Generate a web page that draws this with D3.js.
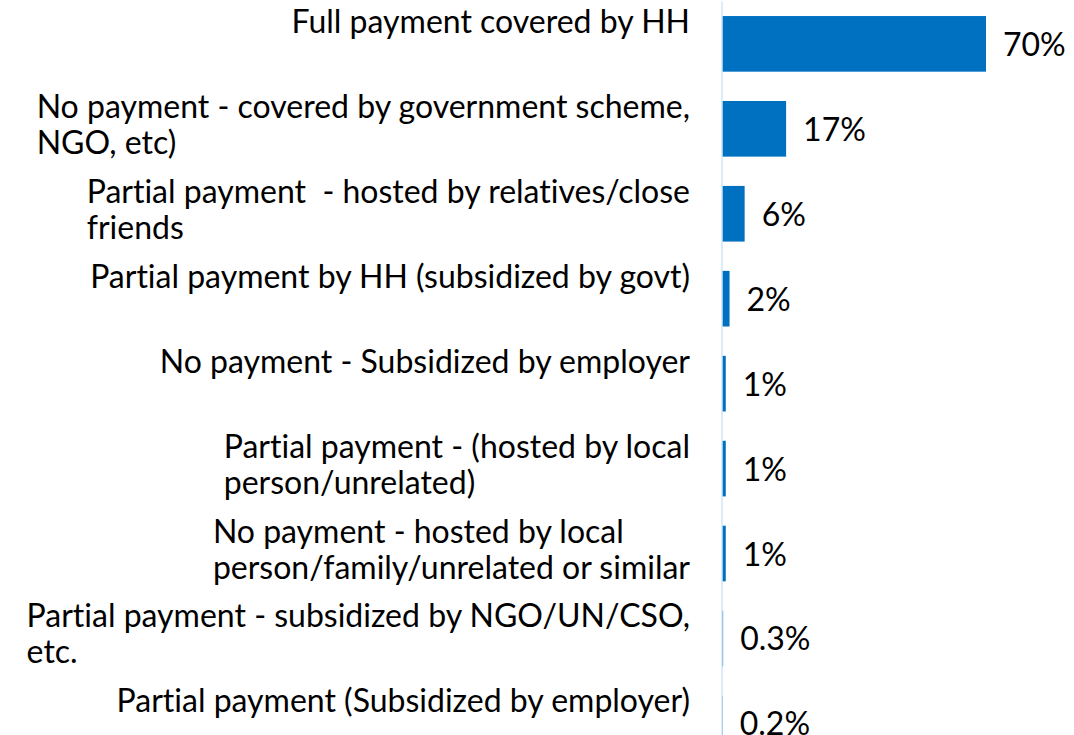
<!DOCTYPE html>
<html>
<head>
<meta charset="utf-8">
<script src="https://cdn.jsdelivr.net/npm/d3@7"></script>
<style>
  html, body { margin: 0; padding: 0; background: #ffffff; }
  svg { display: block; }
  text { font-family: Lato, "Open Sans", sans-serif; fill: #000000; font-variant-ligatures: none; font-feature-settings: "liga" 0, "clig" 0; }
</style>
</head>
<body>
<svg id="chart" width="1074" height="735"></svg>
<script>
// Payment arrangement categories (each entry is the list of label lines)
const categories = [
  ["Full payment covered by HH"],
  ["No payment - covered by government scheme,", "NGO, etc)"],
  ["Partial payment  - hosted by relatives/close", "friends"],
  ["Partial payment by HH (subsidized by govt)"],
  ["No payment - Subsidized by employer"],
  ["Partial payment - (hosted by local", "person/unrelated)"],
  ["No payment - hosted by local", "person/family/unrelated or similar"],
  ["Partial payment - subsidized by NGO/UN/CSO,", "etc."],
  ["Partial payment (Subsidized by employer)"]
];
// Share of respondents, percent
const values = [70, 17, 6, 2, 1, 1, 1, 0.3, 0.2];
const valueLabels = ["70%", "17%", "6%", "2%", "1%", "1%", "1%", "0.3%", "0.2%"];

const svg = d3.select("#chart");
const axisX = 722;
const labelRight = 690;
const fontSize = 32;
const lineGap = 36;

const y = d3.scaleBand()
  .domain(d3.range(categories.length))
  .range([1.6, 765.7])
  .paddingInner(0.345)
  .paddingOuter(0.17);

const x = d3.scaleLinear()
  .domain([0, 70])
  .range([axisX, axisX + 264]);

// bars
svg.append("g")
  .selectAll("rect")
  .data(values)
  .join("rect")
  .attr("x", x(0))
  .attr("y", (d, i) => y(i))
  .attr("width", d => Math.max(0, x(d) - x(0)))
  .attr("height", y.bandwidth())
  .attr("fill", "#0070C0");

// vertical category axis line
svg.append("line")
  .attr("x1", axisX).attr("x2", axisX)
  .attr("y1", y.range()[0]).attr("y2", y.range()[1])
  .attr("stroke", "#D0E6F6")
  .attr("stroke-width", 1.5);

// value labels
svg.append("g")
  .selectAll("text")
  .data(values)
  .join("text")
  .attr("x", d => x(d) + 17)
  .attr("y", (d, i) => y(i) + y.bandwidth() / 2 + 12)
  .attr("font-size", fontSize)
  .text((d, i) => valueLabels[i]);

// category labels: block right-aligned, lines left-aligned inside
const labelG = svg.append("g");
categories.forEach((lines, i) => {
  const cy = y(i) + y.bandwidth() / 2;
  const g = labelG.append("g");
  const texts = lines.map((ln, k) =>
    g.append("text")
      .attr("font-size", fontSize)
      .attr("y", cy - 11 + k * lineGap)
      .attr("xml:space", "preserve")
      .style("white-space", "pre")
      .text(ln)
  );
  const maxW = d3.max(texts, t => t.node().getComputedTextLength());
  texts.forEach(t => {
    if (lines.length > 1) t.attr("x", labelRight - maxW);
    else t.attr("x", labelRight).attr("text-anchor", "end");
  });
});
</script>
</body>
</html>
